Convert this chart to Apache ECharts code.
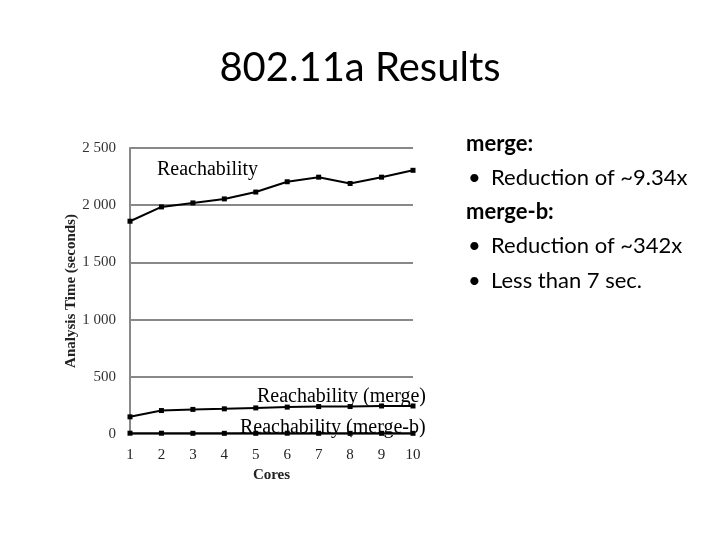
<!DOCTYPE html>
<html><head><meta charset="utf-8">
<script src="https://cdn.jsdelivr.net/npm/echarts@6/dist/echarts.min.js"></script>
<style>html,body{margin:0;padding:0;background:#fff}#c{width:720px;height:540px}</style>
</head><body><div id="c"></div>
<script>
const cores = ['1','2','3','4','5','6','7','8','9','10'];
const reach = [1860, 1985, 2020, 2055, 2115, 2205, 2245, 2190, 2245, 2305];
const reachMerge = [150, 205, 215, 220, 228, 235, 240, 240, 245, 245];
const reachMergeB = [7, 7, 6, 6, 6, 7, 6, 6, 6, 6];
const yTicks = [0, 500, 1000, 1500, 2000, 2500];

const chart = echarts.init(document.getElementById('c'));
const lineSeries = (name, data) => ({
  name, type: 'line', data, symbol: 'rect', symbolSize: 5,
  lineStyle: {color: '#000', width: 2}, itemStyle: {color: '#000'},
  animation: false
});
const bullet = (top, text) => [
  {type: 'text', left: 468, top: top, style: {text: '•', font: '22px Lato', fill: '#000'}},
  {type: 'text', left: 491, top: top, style: {text: text, font: '22px Lato', fill: '#000'}}
];
chart.setOption({
  animation: false,
  title: {text: '802.11a Results', left: 'center', top: 43,
    textStyle: {fontFamily: 'Lato', fontSize: 40, fontWeight: 'normal', color: '#000'}},
  grid: {left: 130, right: 307, top: 148, bottom: 106},
  xAxis: {type: 'category', data: cores, boundaryGap: false,
    name: 'Cores', nameLocation: 'middle', nameGap: 34,
    nameTextStyle: {fontFamily: 'Liberation Serif', fontWeight: 'bold', fontSize: 15, color: '#222'},
    axisLine: {show: false}, axisTick: {show: false},
    axisLabel: {fontFamily: 'Liberation Serif', fontSize: 15, color: '#222', margin: 14}},
  yAxis: {type: 'value', min: 0, max: 2500, interval: 500,
    name: 'Analysis Time (seconds)', nameLocation: 'middle', nameGap: 50,
    nameTextStyle: {fontFamily: 'Liberation Serif', fontWeight: 'bold', fontSize: 15, color: '#222'},
    axisLine: {show: true, lineStyle: {color: '#888', width: 2}}, axisTick: {show: false},
    axisLabel: {fontFamily: 'Liberation Serif', fontSize: 15, color: '#333', margin: 14,
      formatter: v => yTicks.includes(v) ? String(v).replace(/\B(?=(\d{3})+(?!\d))/g, ' ') : ''},
    splitLine: {lineStyle: {color: '#888', width: 2}}},
  series: [
    lineSeries('Reachability', reach),
    lineSeries('Reachability (merge)', reachMerge),
    lineSeries('Reachability (merge-b)', reachMergeB)
  ],
  graphic: [
    {type: 'text', left: 157, top: 160, style: {text: 'Reachability', font: '20px "Liberation Serif"', fill: '#000'}},
    {type: 'text', left: 257, top: 387, style: {text: 'Reachability (merge)', font: '20px "Liberation Serif"', fill: '#000'}},
    {type: 'text', left: 240, top: 418, style: {text: 'Reachability (merge-b)', font: '20px "Liberation Serif"', fill: '#000'}},
    {type: 'text', left: 466, top: 133, style: {text: 'merge:', font: 'bold 22px Lato', fill: '#000'}},
    ...bullet(167, 'Reduction of ~9.34x'),
    {type: 'text', left: 466, top: 201, style: {text: 'merge-b:', font: 'bold 22px Lato', fill: '#000'}},
    ...bullet(235, 'Reduction of ~342x'),
    ...bullet(270, 'Less than 7 sec.')
  ]
});
</script></body></html>
